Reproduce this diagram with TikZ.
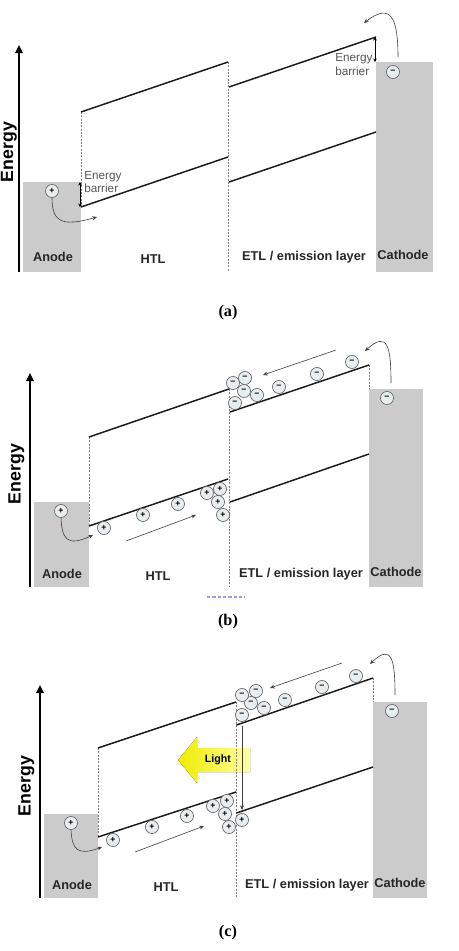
\documentclass[tikz,border=0pt]{standalone}
\usepackage{fontspec}
\setmainfont{Liberation Serif}
\setsansfont{Liberation Sans}
\usetikzlibrary{arrows.meta}
\definecolor{elec}{HTML}{CBCBCB}
\definecolor{bandc}{HTML}{1A1A1A}
\definecolor{chgfill}{HTML}{E8EDEF}
\definecolor{chgline}{HTML}{6A6A6A}
\definecolor{barrtxt}{HTML}{555555}
\definecolor{lightL}{RGB}{240,235,0}
\definecolor{lightR}{RGB}{255,255,160}
\definecolor{artblue}{HTML}{9A9AD8}
\tikzset{
  x=0.75pt, y=-0.75pt,
  electrode/.style={fill=elec, draw=none},
  bandline/.style={line width=1.1pt, draw=bandc},
  sepline/.style={dash pattern=on 1.5pt off 1pt, draw=gray, line width=0.4pt},
  axisline/.style={line width=1.6pt, -{Triangle[length=6pt,width=5.5pt]}},
  lbl/.style={font=\sffamily\bfseries\fontsize{9.6}{11}\selectfont, text=black!85, inner sep=0},
  energylbl/.style={font=\sffamily\bfseries\fontsize{13.3}{15}\selectfont, rotate=90, inner sep=0},
  capt/.style={font=\bfseries\fontsize{12.2}{14}\selectfont, inner sep=0},
  charge/.style={circle, draw=chgline, fill=chgfill, line width=0.5pt, minimum size=9.8pt, inner sep=0,
                 font=\sffamily\bfseries\fontsize{6.5}{7}\selectfont},
  barrtext/.style={font=\sffamily\fontsize{8.8}{9.9}\selectfont, text=barrtxt, align=left, inner sep=0, anchor=north west},
  barrarrow/.style={line width=0.5pt, {Stealth[length=2.6pt,width=2.6pt]}-{Stealth[length=2.6pt,width=2.6pt]}},
  flow/.style={line width=0.45pt, draw=black!75, -{Stealth[length=3.5pt,width=3pt]}},
  lighttext/.style={font=\sffamily\bfseries\fontsize{8}{9}\selectfont, inner sep=0},
}
\begin{document}
\begin{tikzpicture}
\useasboundingbox (0,0) rectangle (458,951);
\fill[white] (0,0) rectangle (458,951);

% ================= (a) =================
\fill[electrode] (23,182) rectangle (81,272);
\fill[electrode] (376,62) rectangle (433,272);
\coordinate (aAx0) at (19,272); \coordinate (aAx1) at (19,45);
\draw[axisline] (aAx0) -- (aAx1);
\node[energylbl] (aEn) at (9,152) {Energy};
\coordinate (aH1) at (81,112); \coordinate (aH2) at (228,62);
\coordinate (aH3) at (81,207); \coordinate (aH4) at (228,157);
\coordinate (aE1) at (229,87); \coordinate (aE2) at (376,37);
\coordinate (aE3) at (229,182); \coordinate (aE4) at (376,132);
\draw[sepline] (aH1) -- (aH3);
\coordinate (aM0) at (228.5,62); \coordinate (aM1) at (228.5,272);
\draw[sepline] (aM0) -- (aM1);
\draw[bandline] (aH1) -- (aH2);
\draw[bandline] (aH3) -- (aH4);
\draw[bandline] (aE1) -- (aE2);
\draw[bandline] (aE3) -- (aE4);
% barriers
\coordinate (aB0) at (80,182); \coordinate (aB1) at (80,207);
\draw[barrarrow] (aB0) -- (aB1);
\node[barrtext] (aBt) at (84,171) {Energy\\barrier};
\coordinate (aC0) at (375,37); \coordinate (aC1) at (375,62);
\draw[barrarrow] (aC0) -- (aC1);
\node[barrtext] (aCt) at (335,53.5) {Energy\\barrier};
% charges
\node[charge] (aP) at (52,191) {+};
\node[charge] (aN) at (393,72) {−};
\coordinate (aPe) at (97,217);
\draw[flow] (aP.south) .. controls (52,222) and (62,227) .. (aPe);
\coordinate (aNs) at (398,57); \coordinate (aNe) at (364,23);
\draw[flow] (aNs) .. controls (398,18) and (391,2) .. (aNe);
% labels
\node[lbl] (aAn) at (53,257) {Anode};
\node[lbl] (aHT) at (153,259) {HTL};
\node[lbl] (aET) at (304,257) {ETL / emission layer};
\node[lbl] (aCa) at (403,255) {Cathode};
\node[capt] (aCap) at (228,313) {(a)};

% ================= (b) =================
\fill[electrode] (34,502) rectangle (89,587);
\fill[electrode] (369,389) rectangle (423,587);
\coordinate (bAx0) at (30,587); \coordinate (bAx1) at (30,373);
\draw[axisline] (bAx0) -- (bAx1);
\node[energylbl] (bEn) at (16.5,474) {Energy};
\coordinate (bH1) at (89,437); \coordinate (bH2) at (229,389);
\coordinate (bH3) at (89,526); \coordinate (bH4) at (228,479);
\coordinate (bE1) at (230,412); \coordinate (bE2) at (369,365);
\coordinate (bE3) at (230,502); \coordinate (bE4) at (369,454);
\draw[sepline] (bH1) -- (bH3);
\coordinate (bM0) at (229,389); \coordinate (bM1) at (229,587);
\draw[sepline] (bM0) -- (bM1);
\coordinate (bK1) at (369,389);
\draw[sepline] (bE2) -- (bK1);
\draw[bandline] (bH1) -- (bH2);
\draw[bandline] (bH3) -- (bH4);
\draw[bandline] (bE1) -- (bE2);
\draw[bandline] (bE3) -- (bE4);
% holes
\node[charge] (bP0) at (61,511) {+};
\node[charge] (bP1) at (104,528) {+};
\node[charge] (bP2) at (143,515) {+};
\node[charge] (bP3) at (178,504) {+};
\node[charge] (bP4) at (207,493) {+};
\node[charge] (bP5) at (220,489) {+};
\node[charge] (bP6) at (218,502) {+};
\node[charge] (bP7) at (223,515) {+};
% electrons
\node[charge] (bN0) at (387,398) {−};
\node[charge] (bN1) at (352,362) {−};
\node[charge] (bN2) at (317,374) {−};
\node[charge] (bN3) at (279,387) {−};
\node[charge] (bN4) at (257,395) {−};
\node[charge] (bN5) at (233,383) {−};
\node[charge] (bN6) at (245,378) {−};
\node[charge] (bN7) at (244,391) {−};
\node[charge] (bN8) at (235,403) {−};
% flows
\coordinate (bPe) at (93,535);
\draw[flow] (bP0.south) .. controls (62,539) and (67,547) .. (bPe);
\coordinate (bNs) at (391,383); \coordinate (bNe) at (365,351);
\draw[flow] (bNs) .. controls (391,348) and (388,330) .. (bNe);
\coordinate (bF0) at (336,350); \coordinate (bF1) at (263,375);
\draw[flow] (bF0) -- (bF1);
\coordinate (bG0) at (126,541); \coordinate (bG1) at (196,515);
\draw[flow] (bG0) -- (bG1);
% labels
\node[lbl] (bAn) at (62,574) {Anode};
\node[lbl] (bHT) at (158,576) {HTL};
\node[lbl] (bET) at (301,574) {ETL / emission layer};
\node[lbl] (bCa) at (396,572) {Cathode};
\coordinate (bD0) at (207,597); \coordinate (bD1) at (245,597);
\draw[artblue, dash pattern=on 2.5pt off 1.5pt, line width=0.8pt] (bD0) -- (bD1);
\node[capt] (bCap) at (228,622) {(b)};

% ================= (c) =================
\fill[electrode] (44,814) rectangle (98,898);
\fill[electrode] (373,702) rectangle (427,898);
\coordinate (cAx0) at (40,898); \coordinate (cAx1) at (40,685);
\draw[axisline] (cAx0) -- (cAx1);
\node[energylbl] (cEn) at (26.5,786) {Energy};
% light arrow
\fill[left color=lightL, right color=lightR]
  (178,760) -- (197,737) -- (197,748) -- (250,748) -- (250,772) -- (197,772) -- (197,783) -- cycle;
\node[lighttext] (cLi) at (218,760) {Light};
\coordinate (cH1) at (98,748); \coordinate (cH2) at (236,702);
\coordinate (cH3) at (98,837); \coordinate (cH4) at (236,792);
\coordinate (cE1) at (236.5,725); \coordinate (cE2) at (373,678);
\coordinate (cE3) at (236.5,813); \coordinate (cE4) at (373,767);
\draw[sepline] (cH1) -- (cH3);
\coordinate (cM0) at (236.5,702); \coordinate (cM1) at (236.5,898);
\draw[sepline] (cM0) -- (cM1);
\coordinate (cK1) at (373,702);
\draw[sepline] (cE2) -- (cK1);
\draw[bandline] (cH1) -- (cH2);
\draw[bandline] (cH3) -- (cH4);
\draw[bandline] (cE1) -- (cE2);
\draw[bandline] (cE3) -- (cE4);
% recombination
\coordinate (cR0) at (242,726); \coordinate (cR1) at (242,810);
\draw[flow] (cR0) -- (cR1);
% holes
\node[charge] (cP0) at (71,823) {+};
\node[charge] (cP1) at (113,840) {+};
\node[charge] (cP2) at (152,827) {+};
\node[charge] (cP3) at (187,816) {+};
\node[charge] (cP4) at (213,806) {+};
\node[charge] (cP5) at (227,801) {+};
\node[charge] (cP6) at (225,814) {+};
\node[charge] (cP7) at (229,827) {+};
\node[charge] (cP8) at (242,820) {+};
% electrons
\node[charge] (cN0) at (392,711) {−};
\node[charge] (cN1) at (356,676) {−};
\node[charge] (cN2) at (322,687) {−};
\node[charge] (cN3) at (285,700) {−};
\node[charge] (cN4) at (264,708) {−};
\node[charge] (cN5) at (251,703) {−};
\node[charge] (cN6) at (256,691) {−};
\node[charge] (cN7) at (242,695) {−};
\node[charge] (cN8) at (242,715) {−};
% flows
\coordinate (cPe) at (102,847);
\draw[flow] (cP0.south) .. controls (72,850) and (78,856) .. (cPe);
\coordinate (cNs) at (395,695); \coordinate (cNe) at (370,664);
\draw[flow] (cNs) .. controls (395,660) and (392,643) .. (cNe);
\coordinate (cF0) at (342,663); \coordinate (cF1) at (270,688);
\draw[flow] (cF0) -- (cF1);
\coordinate (cG0) at (135,852); \coordinate (cG1) at (204,826);
\draw[flow] (cG0) -- (cG1);
% labels
\node[lbl] (cAn) at (72,885) {Anode};
\node[lbl] (cHT) at (166,887) {HTL};
\node[lbl] (cET) at (307,885) {ETL / emission layer};
\node[lbl] (cCa) at (400,883) {Cathode};
\node[capt] (cCap) at (228,933) {(c)};
\end{tikzpicture}
\end{document}
